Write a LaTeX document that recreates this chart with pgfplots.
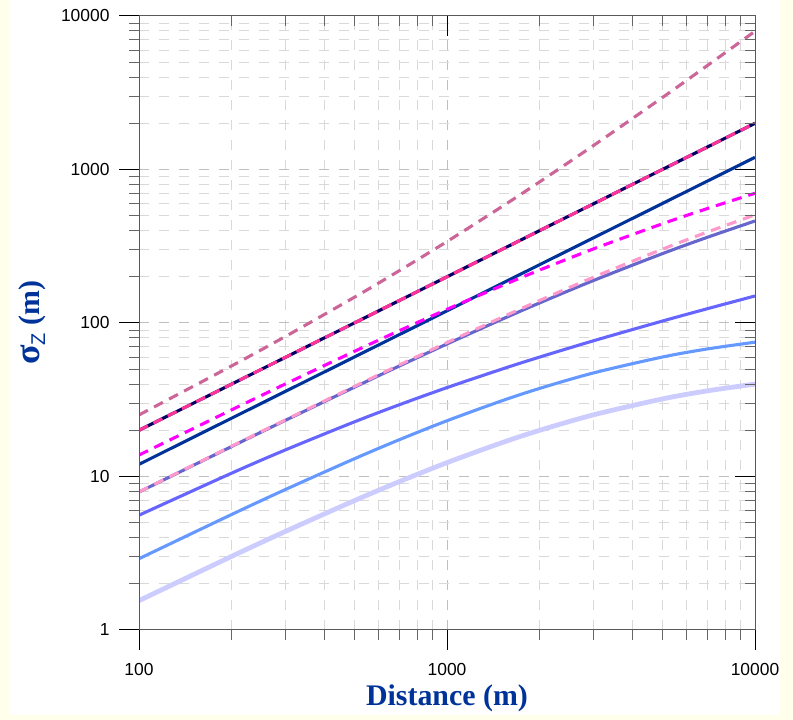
\documentclass[border=0pt]{standalone}
\usepackage{pgfplots}
\pgfplotsset{compat=1.18}
\usepackage{fontspec}
\setmainfont{Liberation Serif}
\newfontfamily\ticksans{Liberation Sans}
\definecolor{cream}{RGB}{255,255,236}
\definecolor{labblue}{RGB}{0,51,153}
\definecolor{cAB}{RGB}{204,102,153}
\definecolor{cNavy}{RGB}{0,0,102}
\definecolor{cHot}{RGB}{255,51,153}
\definecolor{cB}{RGB}{0,51,153}
\definecolor{cMag}{RGB}{255,0,255}
\definecolor{cSlate}{RGB}{102,102,204}
\definecolor{cPink}{RGB}{255,153,204}
\definecolor{cD}{RGB}{102,102,255}
\definecolor{cE}{RGB}{102,153,255}
\definecolor{cF}{RGB}{204,204,255}
\begin{document}
\begin{tikzpicture}[x=1bp,y=1bp]
\fill[cream] (0,0) rectangle (793,720);
\fill[white] (9,5) rectangle (780,720);
\begin{axis}[
  at={(139bp,90bp)}, anchor=south west,
  scale only axis, width=616bp, height=614bp,
  xmode=log, ymode=log,
  xmin=100, xmax=10000, ymin=1, ymax=10000,
  xtick={100,1000,10000}, xticklabels={100,1000,10000},
  ytick={1,10,100,1000,10000}, yticklabels={1,10,100,1000,10000},
  tick pos=left, tick align=outside,
  major tick length=20bp, minor tick length=10bp,
  every tick/.style={black, line width=1pt},
  minor tick style={gray!80!black, line width=1pt},
  axis line style={black, line width=1pt},
  grid=both,
  major grid style={gray!50, line width=1pt, dash pattern=on 10bp off 10bp},
  minor grid style={gray!30, line width=1pt, dash pattern=on 10bp off 10bp},
  tick label style={font=\ticksans\fontsize{17.5}{20}\selectfont, black},
  yticklabel style={xshift=-6bp},
  xticklabel style={yshift=-10bp},
  clip=true,
  every axis plot/.append style={smooth},
]
% Rural F
\addplot[cF, line width=4.8pt] coordinates {(100,1.553)(200,3.019)(300,4.404)(500,6.957)(700,9.256)(1000,12.31)(1500,16.55)(2000,20)(3000,25.26)(5000,32)(7000,36.13)(10000,40)};
% Rural E
\addplot[cE, line width=3.1pt] coordinates {(100,2.913)(200,5.660)(300,8.257)(500,13.04)(700,17.36)(1000,23.08)(1500,31.03)(2000,37.5)(3000,47.37)(5000,60)(7000,67.74)(10000,75)};
% Rural D
\addplot[cD, line width=3.1pt] coordinates {(100,5.595)(200,10.52)(300,14.95)(500,22.68)(700,29.33)(1000,37.95)(1500,49.92)(2000,60)(3000,76.75)(5000,102.90)(7000,123.85)(10000,150)};
% Rural C
\addplot[cSlate, line width=3.1pt] coordinates {(100,7.921)(200,15.69)(300,23.31)(500,38.14)(700,52.45)(1000,73.03)(1500,105.25)(2000,135.22)(3000,189.74)(5000,282.84)(7000,361.48)(10000,461.88)};
% Urban E-F
\addplot[cPink, line width=3.1pt, dash pattern=on 10bp off 7bp] coordinates {(100,7.941)(200,15.77)(300,23.48)(500,38.58)(700,53.27)(1000,74.60)(1500,108.42)(2000,140.33)(3000,199.31)(5000,302.37)(7000,391.12)(10000,505.96)};
% Rural B
\addplot[cB, line width=3.1pt] coordinates {(100,12)(10000,1200)};
% Urban D
\addplot[cMag, line width=3.1pt, dash pattern=on 10bp off 7bp] coordinates {(100,13.79)(200,27.20)(300,40.23)(500,65.28)(700,89.09)(1000,122.79)(1500,174.40)(2000,221.36)(3000,304.70)(5000,442.72)(7000,556.60)(10000,700)};
% Rural A
\addplot[cNavy, line width=3.1pt] coordinates {(100,20)(10000,2000)};
% Urban C
\addplot[cHot, line width=3.1pt, dash pattern=on 10bp off 6bp] coordinates {(100,20)(10000,2000)};
% Urban A-B
\addplot[cAB, line width=3.1pt, dash pattern=on 10bp off 7bp] coordinates {(100,25.17)(200,52.58)(300,82.09)(500,146.97)(700,219.05)(1000,339.41)(1500,569.21)(2000,831.38)(3000,1440)(5000,2939.4)(7000,4751.8)(10000,7959.9)};
\end{axis}
\begin{axis}[
  at={(139bp,90bp)}, anchor=south west,
  scale only axis, width=616bp, height=614bp,
  xmode=log, ymode=log,
  xmin=100, xmax=10000, ymin=1, ymax=10000,
  xtick={100,1000,10000}, ytick={1,10,100,1000,10000},
  xticklabels={}, yticklabels={},
  tick pos=right, tick align=inside,
  major tick length=20bp, minor tick length=10bp,
  every tick/.style={black, line width=1pt},
  minor tick style={gray!80!black, line width=1pt},
  axis line style={gray!70!black, line width=1pt},
]
\end{axis}
\node[anchor=base, text=labblue, font=\bfseries\fontsize{30}{34}\selectfont] at (447,14) {Distance (m)};
\node[rotate=90, anchor=center, text=labblue, font=\bfseries\fontsize{30}{34}\selectfont] at (32,397) {{\fontsize{36}{38}\selectfont σ}\raisebox{-0.2em}{\ticksans\mdseries\fontsize{20}{22}\selectfont Z} (m)};
\end{tikzpicture}
\end{document}
